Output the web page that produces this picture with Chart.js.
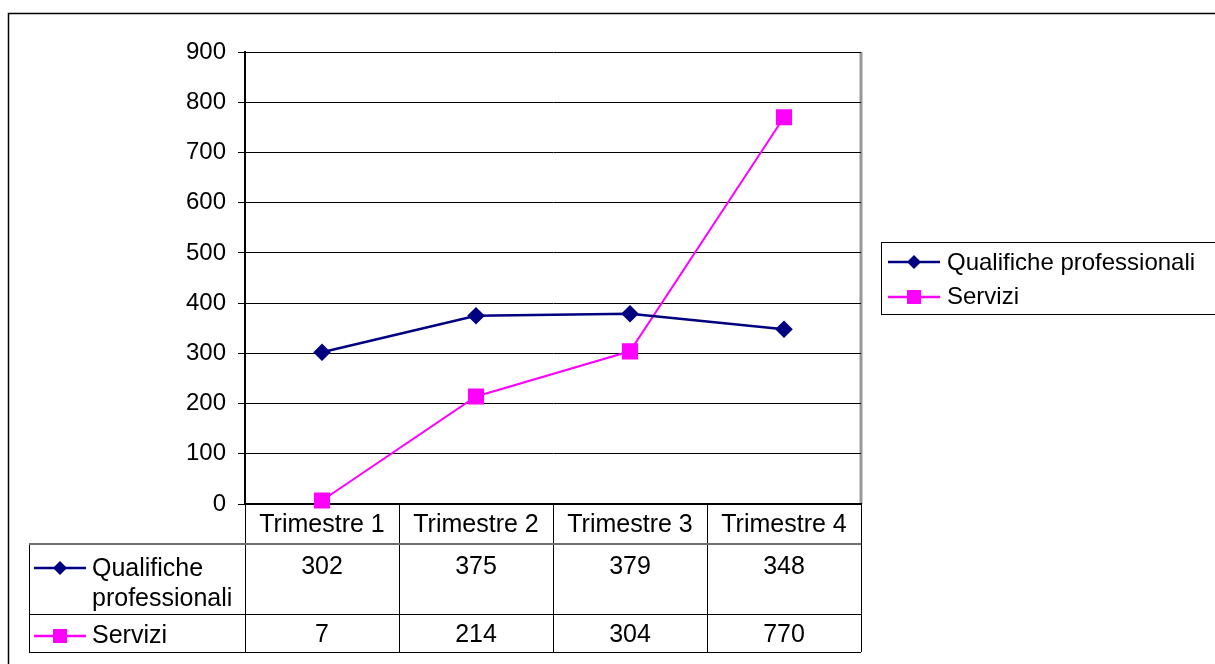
<!DOCTYPE html>
<html>
<head>
<meta charset="utf-8">
<script src="https://cdn.jsdelivr.net/npm/chart.js@4"></script>
<style>
	html, body { margin: 0; padding: 0; background: #fff; }
	canvas { display: block; }
</style>
</head>
<body>
<canvas id="chart" width="1215" height="664"></canvas>
<script>
var categories = ['Trimestre 1', 'Trimestre 2', 'Trimestre 3', 'Trimestre 4'];
var qualificheValues = [302, 375, 379, 348];
var serviziValues = [7, 214, 304, 770];
var seriesLabels = ['Qualifiche professionali', 'Servizi'];
var rowLabels = [['Qualifiche', 'professionali'], ['Servizi']];

var FONT = '25px "Liberation Sans", Arial, sans-serif';
var LEGEND_FONT = '24px "Liberation Sans", Arial, sans-serif';
var NAVY = '#000080';
var MAGENTA = '#FF00FF';
var GRID = '#000';

/*
 * Draw a small legend symbol: line with marker in the middle
 */
function drawSymbol(ctx, x1, x2, y, color, style) {
	var xm = (x1 + x2) / 2;
	ctx.save();
	ctx.strokeStyle = color;
	ctx.lineWidth = 2.5;
	ctx.beginPath();
	ctx.moveTo(x1, y);
	ctx.lineTo(x2, y);
	ctx.stroke();
	ctx.fillStyle = color;
	ctx.beginPath();
	if(style === 'diamond') {
		ctx.moveTo(xm, y - 7);
		ctx.lineTo(xm + 7, y);
		ctx.lineTo(xm, y + 7);
		ctx.lineTo(xm - 7, y);
		ctx.closePath();
	} else {
		ctx.rect(xm - 7, y - 7, 14, 14);
	}
	ctx.fill();
	ctx.restore();
}

var tablePlugin = {
	id: 'excelTable',
	beforeDraw: function(chart) {
		var ctx = chart.ctx;
		ctx.save();
		// outer chart border
		ctx.strokeStyle = '#000';
		ctx.lineWidth = 1.5;
		ctx.strokeRect(8.5, 13.5, 1300, 700);
		// plot area frame (gray right side)
		var a = chart.chartArea;
		ctx.strokeStyle = '#999';
		ctx.lineWidth = 3;
		ctx.beginPath();
		ctx.moveTo(a.right, a.top);
		ctx.lineTo(a.right, a.bottom);
		ctx.stroke();
		ctx.restore();
	},
	afterDraw: function(chart) {
		var ctx = chart.ctx;
		var x = chart.scales.x;
		var a = chart.chartArea;
		var step = x.getPixelForValue(1) - x.getPixelForValue(0);
		var tableLeft = 29;
		var rowTop = a.bottom + 40;
		var row2Top = rowTop + 70;
		var bottom = row2Top + 38;
		var i;

		ctx.save();
		ctx.strokeStyle = '#000';
		ctx.lineWidth = 1;

		// vertical cell borders
		ctx.beginPath();
		for(i = 0; i <= categories.length; i++) {
			var bx = Math.round(x.getPixelForValue(i) - step / 2) + 0.5;
			ctx.moveTo(bx, a.bottom);
			ctx.lineTo(bx, bottom);
		}
		ctx.moveTo(tableLeft + 0.5, rowTop);
		ctx.lineTo(tableLeft + 0.5, bottom);
		ctx.moveTo(tableLeft, row2Top + 0.5);
		ctx.lineTo(a.right, row2Top + 0.5);
		ctx.moveTo(tableLeft, bottom + 0.5);
		ctx.lineTo(a.right, bottom + 0.5);
		ctx.stroke();

		ctx.strokeStyle = '#707070';
		ctx.lineWidth = 2;
		ctx.beginPath();
		ctx.moveTo(tableLeft, rowTop);
		ctx.lineTo(a.right, rowTop);
		ctx.stroke();

		// texts
		ctx.fillStyle = '#000';
		ctx.font = FONT;
		ctx.textAlign = 'center';
		ctx.textBaseline = 'middle';
		for(i = 0; i < categories.length; i++) {
			var cx = x.getPixelForValue(i);
			ctx.fillText(categories[i], cx, a.bottom + 21);
			ctx.fillText(String(qualificheValues[i]), cx, rowTop + 23);
			ctx.fillText(String(serviziValues[i]), cx, row2Top + 21);
		}

		// row headers
		ctx.textAlign = 'left';
		ctx.fillText(rowLabels[0][0], 92, rowTop + 25);
		ctx.fillText(rowLabels[0][1], 92, rowTop + 55);
		ctx.fillText(rowLabels[1][0], 92, row2Top + 22);
		drawSymbol(ctx, 34, 86, rowTop + 24, NAVY, 'diamond');
		drawSymbol(ctx, 34, 86, row2Top + 22, MAGENTA, 'square');

		// legend on the right
		ctx.strokeStyle = '#000';
		ctx.lineWidth = 1;
		ctx.strokeRect(881.5, 242.5, 400, 72);
		ctx.font = LEGEND_FONT;
		ctx.fillText(seriesLabels[0], 947, 263);
		ctx.fillText(seriesLabels[1], 947, 297);
		drawSymbol(ctx, 888, 940, 262, NAVY, 'diamond');
		drawSymbol(ctx, 888, 940, 297, MAGENTA, 'square');
		ctx.restore();
	}
};

new Chart(document.getElementById('chart'), {
	type: 'line',
	data: {
		labels: categories,
		datasets: [{
			label: seriesLabels[0],
			data: qualificheValues,
			borderColor: NAVY,
			backgroundColor: NAVY,
			borderWidth: 2.5,
			pointStyle: 'rectRot',
			pointRadius: 7,
			pointHoverRadius: 7,
			tension: 0,
			clip: false
		}, {
			label: seriesLabels[1],
			data: serviziValues,
			borderColor: MAGENTA,
			backgroundColor: MAGENTA,
			borderWidth: 2,
			pointStyle: 'rect',
			pointRadius: 10,
			pointHoverRadius: 10,
			tension: 0,
			clip: false
		}]
	},
	options: {
		responsive: false,
		animation: false,
		layout: { padding: { top: 52, right: 354, left: 0, bottom: 0 } },
		plugins: {
			legend: { display: false },
			tooltip: { enabled: false }
		},
		scales: {
			x: {
				offset: true,
				ticks: { display: false },
				grid: { display: false, offset: true },
				border: { display: true, color: '#000', width: 2 },
				afterFit: function(scale) { scale.height = 160; }
			},
			y: {
				min: 0,
				max: 900,
				ticks: {
					stepSize: 100,
					color: '#000',
					font: { family: '"Liberation Sans", Arial, sans-serif', size: 24 },
					padding: 12
				},
				grid: { color: GRID, lineWidth: 1, tickLength: 7, tickColor: '#000' },
				border: { display: true, color: '#000', width: 2 },
				afterFit: function(scale) { scale.width = 245; }
			}
		}
	},
	plugins: [tablePlugin]
});
</script>
</body>
</html>
